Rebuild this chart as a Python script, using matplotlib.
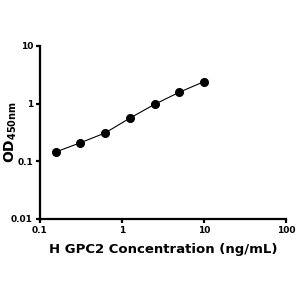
import matplotlib

matplotlib.use("Agg")
import matplotlib.pyplot as plt  # noqa: E402
from matplotlib.ticker import FixedLocator, NullLocator  # noqa: E402

conc = [0.156, 0.3125, 0.625, 1.25, 2.5, 5, 10]
od = [0.145, 0.21, 0.31, 0.56, 0.97, 1.57, 2.40]
x_ticks = [0.1, 1, 10, 100]
x_labels = ["0.1", "1", "10", "100"]
y_ticks = [0.01, 0.1, 1, 10]
y_labels = ["0.01", "0.1", "1", "10"]

fig = plt.figure(figsize=(3, 3), dpi=100)
ax = fig.add_axes([0.133, 0.27, 0.82, 0.577])
ax.plot(conc, od, color="black", lw=0.8, marker="o", ms=5.5)
ax.set_xscale("log")
ax.set_yscale("log")
ax.set_xlim(0.1, 100)
ax.set_ylim(0.01, 10)
ax.xaxis.set_major_locator(FixedLocator(x_ticks))
ax.yaxis.set_major_locator(FixedLocator(y_ticks))
ax.xaxis.set_minor_locator(NullLocator())
ax.yaxis.set_minor_locator(NullLocator())
ax.set_xticklabels(x_labels, fontsize=6.5, fontweight="bold")
ax.set_yticklabels(y_labels, fontsize=6.5, fontweight="bold")
for s in ("top", "right"):
    ax.spines[s].set_visible(False)
for s in ("left", "bottom"):
    ax.spines[s].set_linewidth(1.6)
ax.tick_params(width=1.6, length=3, pad=2)
ax.set_xlabel("H GPC2 Concentration (ng/mL)", fontsize=9.5, fontweight="bold", labelpad=6)
ax.set_ylabel(r"$\mathbf{OD}_{\mathbf{450nm}}$", fontsize=10)
ax.yaxis.set_label_coords(-0.085, 0.5)
fig.savefig("out.png", dpi=100)
